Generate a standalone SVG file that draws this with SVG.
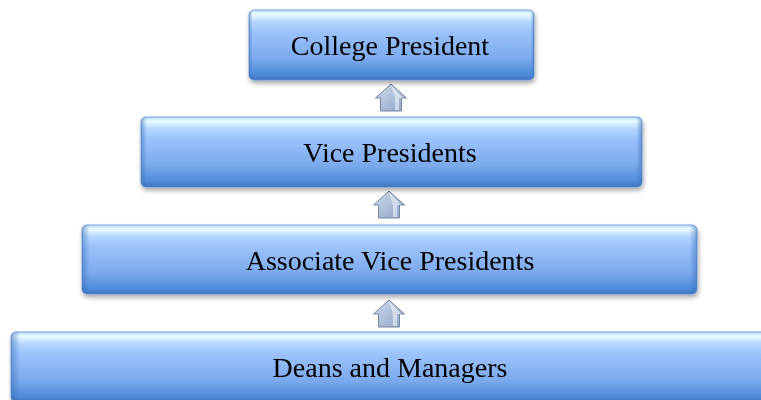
<svg xmlns="http://www.w3.org/2000/svg" width="761" height="400" viewBox="0 0 761 400">
  <defs>
    <linearGradient id="boxFill" x1="0" y1="0" x2="0" y2="1">
      <stop offset="0" stop-color="#b9dcff"/>
      <stop offset="0.06" stop-color="#eafcff"/>
      <stop offset="0.16" stop-color="#b7d8ff"/>
      <stop offset="0.3" stop-color="#9dc3fb"/>
      <stop offset="0.7" stop-color="#7aa9ec"/>
      <stop offset="0.92" stop-color="#4f8bd8"/>
      <stop offset="1" stop-color="#3f74c0"/>
    </linearGradient>
    <linearGradient id="sideShade" x1="0" y1="0" x2="1" y2="0">
      <stop offset="0" stop-color="#3d6fb8" stop-opacity="0.55"/>
      <stop offset="0.012" stop-color="#3d6fb8" stop-opacity="0"/>
      <stop offset="0.988" stop-color="#3d6fb8" stop-opacity="0"/>
      <stop offset="1" stop-color="#3d6fb8" stop-opacity="0.55"/>
    </linearGradient>
    <linearGradient id="arrowFill" x1="0" y1="0" x2="1" y2="1">
      <stop offset="0" stop-color="#d3ddee"/>
      <stop offset="0.5" stop-color="#afc0da"/>
      <stop offset="1" stop-color="#8ea2c4"/>
    </linearGradient>
    <filter id="shadow" x="-5%" y="-20%" width="110%" height="150%">
      <feGaussianBlur in="SourceAlpha" stdDeviation="2.5"/>
      <feOffset dx="1" dy="3" result="blur"/>
      <feComponentTransfer><feFuncA type="linear" slope="0.35"/></feComponentTransfer>
      <feMerge><feMergeNode/><feMergeNode in="SourceGraphic"/></feMerge>
    </filter>
    <path id="upArrow" d="M0,-14 L15.5,0 L10.5,0 L10.5,13 L-10.5,13 L-10.5,0 L-15.5,0 Z"/>
  </defs>
  <style>
    .box { fill: url(#boxFill); stroke: #5e8fd0; stroke-width: 0.8; }
    .edge { fill: url(#sideShade); }
    .label { font-family: "Liberation Serif", "DejaVu Serif", serif; font-size: 28px; fill: #000; text-anchor: middle; }
    .arrow { fill: url(#arrowFill); stroke: #76879f; stroke-width: 1; }
    .glint { fill: #ffffff; opacity: 0.5; }
  </style>

  <g id="connectors">
    <g transform="translate(391,98)">
      <use href="#upArrow" class="arrow"/>
      <path class="glint" d="M0,-13 L4,0 L4,12 L8,12 L8,0 L12,0 Z"/>
    </g>
    <g transform="translate(389,205)">
      <use href="#upArrow" class="arrow"/>
      <path class="glint" d="M0,-13 L4,0 L4,12 L8,12 L8,0 L12,0 Z"/>
    </g>
    <g transform="translate(389,314)">
      <use href="#upArrow" class="arrow"/>
      <path class="glint" d="M0,-13 L4,0 L4,12 L8,12 L8,0 L12,0 Z"/>
    </g>
  </g>

  <g id="college-president" filter="url(#shadow)">
    <rect class="box" x="249" y="10" width="285" height="70" rx="5"/>
    <rect class="edge" x="249" y="10" width="285" height="70" rx="5"/>
    <text class="label" x="390" y="55">College President</text>
  </g>

  <g id="vice-presidents" filter="url(#shadow)">
    <rect class="box" x="141" y="117" width="501" height="70" rx="5"/>
    <rect class="edge" x="141" y="117" width="501" height="70" rx="5"/>
    <text class="label" x="390" y="162">Vice Presidents</text>
  </g>

  <g id="associate-vice-presidents" filter="url(#shadow)">
    <rect class="box" x="82" y="225" width="615" height="69" rx="5"/>
    <rect class="edge" x="82" y="225" width="615" height="69" rx="5"/>
    <text class="label" x="390" y="270">Associate Vice Presidents</text>
  </g>

  <g id="deans-and-managers" filter="url(#shadow)">
    <rect class="box" x="11" y="332" width="770" height="70" rx="5"/>
    <rect class="edge" x="11" y="332" width="770" height="70" rx="5"/>
    <text class="label" x="390" y="377">Deans and Managers</text>
  </g>
</svg>
